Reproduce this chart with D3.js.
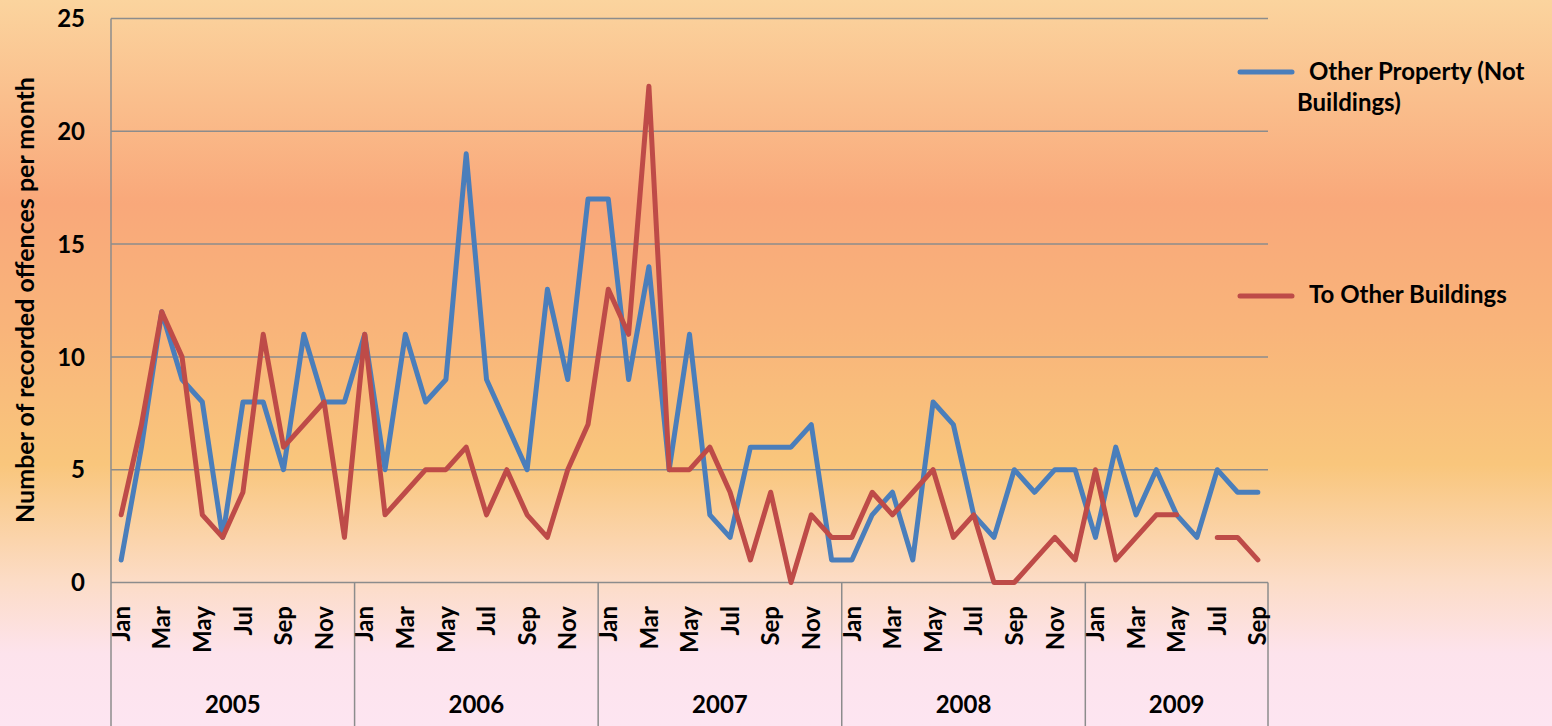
<!DOCTYPE html>
<html>
<head>
<meta charset="utf-8">
<script src="https://cdn.jsdelivr.net/npm/d3@7"></script>
<style>
  html, body { margin: 0; padding: 0; }
  body { width: 1552px; height: 726px; overflow: hidden; }
  text { font-family: Lato, "Open Sans", sans-serif; font-weight: 700; fill: #000; }
</style>
</head>
<body>
<svg id="chart" width="1552" height="726"></svg>
<script>
// ---- data ----
const monthNames = ["Jan","Feb","Mar","Apr","May","Jun","Jul","Aug","Sep","Oct","Nov","Dec"];
const years = ["2005","2006","2007","2008","2009"];
const monthsPerYear = [12, 12, 12, 12, 9];
const yTicks = [0, 5, 10, 15, 20, 25];

const otherProperty = [
  1, 6, 12, 9, 8, 2, 8, 8, 5, 11, 8, 8,
  11, 5, 11, 8, 9, 19, 9, 7, 5, 13, 9, 17,
  17, 9, 14, 5, 11, 3, 2, 6, 6, 6, 7, 1,
  1, 3, 4, 1, 8, 7, 3, 2, 5, 4, 5, 5,
  2, 6, 3, 5, 3, 2, 5, 4, 4
];
const otherBuildings = [
  3, 7, 12, 10, 3, 2, 4, 11, 6, 7, 8, 2,
  11, 3, 4, 5, 5, 6, 3, 5, 3, 2, 5, 7,
  13, 11, 22, 5, 5, 6, 4, 1, 4, 0, 3, 2,
  2, 4, 3, 4, 5, 2, 3, 0, 0, 1, 2, 1,
  5, 1, 2, 3, 3, null, 2, 2, 1
];
const seriesNames = ["Other Property (Not Buildings)", "To Other Buildings"];
const seriesColors = ["#4A7EBB", "#BE4B48"];

// ---- categories ----
const cats = [];
years.forEach((yr, i) => {
  for (let m = 0; m < monthsPerYear[i]; m++) cats.push({ key: yr + "-" + m, year: yr, month: monthNames[m], m });
});

const svg = d3.select("#chart");
const W = 1552, H = 726;
const FS = "24px";

// background gradient
const defs = svg.append("defs");
const grad = defs.append("linearGradient").attr("id", "bg").attr("x1", 0).attr("y1", 0).attr("x2", 0).attr("y2", 1);
[[0, "#FBD49E"], [0.28, "#F9A87A"], [0.45, "#F9B47A"], [0.64, "#F9C67C"], [0.8, "#FCDCC6"], [0.9, "#FDE3EC"], [1, "#FDE5F1"]]
  .forEach(([o, c]) => grad.append("stop").attr("offset", o).attr("stop-color", c));
svg.append("rect").attr("width", W).attr("height", H).attr("fill", "url(#bg)");

const pLeft = 111, pRight = 1268, pTop = 18.5, pBottom = 582.5;
const x = d3.scaleBand().domain(cats.map(d => d.key)).range([pLeft, pRight]).paddingInner(0).paddingOuter(0);
const y = d3.scaleLinear().domain([0, 25]).range([pBottom, pTop]);
const cx = k => x(k) + x.bandwidth() / 2;

const gridColor = "#8C8C8C";

// gridlines
svg.append("g").selectAll("line").data(yTicks.filter(t => t > 0)).join("line")
  .attr("x1", pLeft).attr("x2", pRight)
  .attr("y1", d => y(d)).attr("y2", d => y(d))
  .attr("stroke", gridColor).attr("stroke-width", 1.5);

// y axis line
svg.append("line").attr("x1", pLeft).attr("x2", pLeft).attr("y1", pTop).attr("y2", H)
  .attr("stroke", gridColor).attr("stroke-width", 1.5);
// x axis line
svg.append("line").attr("x1", pLeft).attr("x2", pRight).attr("y1", pBottom).attr("y2", pBottom)
  .attr("stroke", gridColor).attr("stroke-width", 1.5);

// year groups
let idx = 0;
const yearBounds = [];
years.forEach((yr, i) => {
  const startKey = cats[idx].key;
  const endKey = cats[idx + monthsPerYear[i] - 1].key;
  yearBounds.push({ year: yr, x0: x(startKey), x1: x(endKey) + x.bandwidth() });
  idx += monthsPerYear[i];
});
svg.append("g").selectAll("line").data(yearBounds).join("line")
  .attr("x1", d => d.x1).attr("x2", d => d.x1)
  .attr("y1", pBottom).attr("y2", H)
  .attr("stroke", gridColor).attr("stroke-width", 1.5);

// y tick labels
svg.append("g").selectAll("text").data(yTicks).join("text")
  .attr("x", 85).attr("y", d => y(d)).attr("dy", "0.36em")
  .attr("text-anchor", "end").style("font-size", FS)
  .text(d => d);

// y axis title
svg.append("text")
  .attr("transform", `translate(25,300) rotate(-90)`)
  .attr("text-anchor", "middle").attr("dy", "0.35em")
  .style("font-size", "25px")
  .text("Number of recorded offences per month");

// month labels (every other month)
svg.append("g").selectAll("text").data(cats.filter(d => d.m % 2 === 0)).join("text")
  .attr("transform", d => `translate(${cx(d.key)},606) rotate(-90)`)
  .attr("text-anchor", "end").attr("dy", "0.36em")
  .style("font-size", FS)
  .text(d => d.month);

// year labels
svg.append("g").selectAll("text").data(yearBounds).join("text")
  .attr("x", d => (d.x0 + d.x1) / 2).attr("y", 713)
  .attr("text-anchor", "middle").style("font-size", FS)
  .text(d => d.year);

// lines
const allSeries = [otherProperty, otherBuildings];
allSeries.forEach((vals, i) => {
  const line = d3.line()
    .defined(d => d.v !== null)
    .x(d => cx(d.key)).y(d => y(d.v));
  svg.append("path")
    .datum(cats.map((c, j) => ({ key: c.key, v: vals[j] })))
    .attr("d", line)
    .attr("fill", "none")
    .attr("stroke", seriesColors[i])
    .attr("stroke-width", 5)
    .attr("stroke-linejoin", "round")
    .attr("stroke-linecap", "round");
});

// legend
const lg = svg.append("g");
const legendItems = [
  { color: seriesColors[0], ly: 72, lines: [{ t: "Other Property (Not", x: 1309, y: 80 }, { t: "Buildings)", x: 1297, y: 111 }] },
  { color: seriesColors[1], ly: 296, lines: [{ t: "To Other Buildings", x: 1309, y: 303 }] }
];
legendItems.forEach(it => {
  lg.append("line").attr("x1", 1240).attr("x2", 1292).attr("y1", it.ly).attr("y2", it.ly)
    .attr("stroke", it.color).attr("stroke-width", 5).attr("stroke-linecap", "round");
  it.lines.forEach(l => lg.append("text").attr("x", l.x).attr("y", l.y).style("font-size", FS).text(l.t));
});
</script>
</body>
</html>
